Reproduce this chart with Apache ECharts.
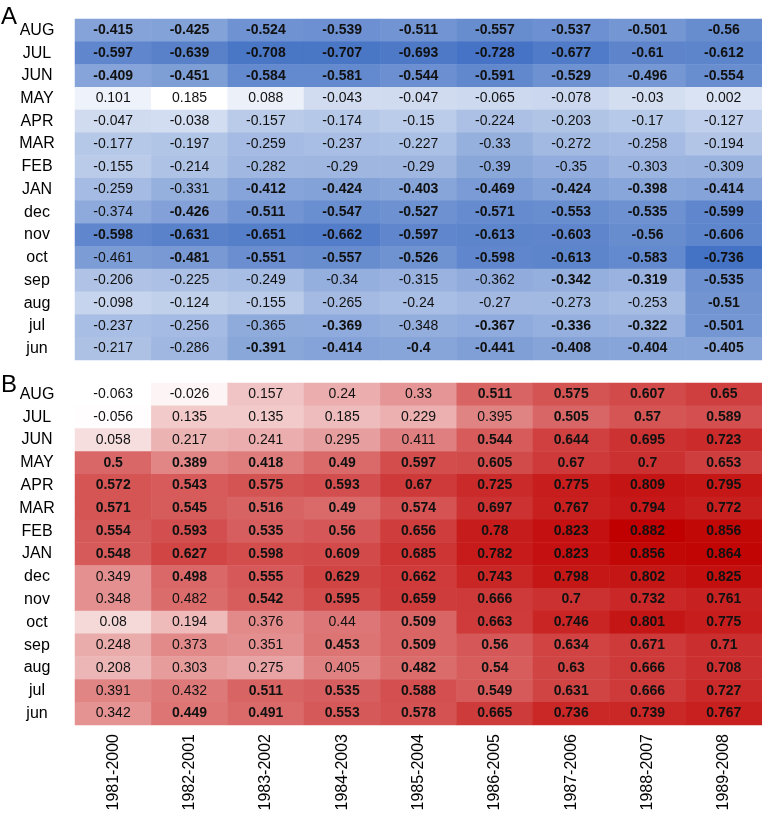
<!DOCTYPE html>
<html><head><meta charset="utf-8">
<script src="https://cdn.jsdelivr.net/npm/echarts@6/dist/echarts.min.js"></script>
<style>html,body{margin:0;padding:0;background:#fff}#c{width:762px;height:822px}</style>
</head><body><div id="c"></div>
<script>
const periods = ['1981-2000','1982-2001','1983-2002','1984-2003','1985-2004','1986-2005','1987-2006','1988-2007','1989-2008'];
const months = ['AUG','JUL','JUN','MAY','APR','MAR','FEB','JAN','dec','nov','oct','sep','aug','jul','jun'];

const valuesA = [
  [-0.415,-0.425,-0.524,-0.539,-0.511,-0.557,-0.537,-0.501,-0.56],
  [-0.597,-0.639,-0.708,-0.707,-0.693,-0.728,-0.677,-0.61,-0.612],
  [-0.409,-0.451,-0.584,-0.581,-0.544,-0.591,-0.529,-0.496,-0.554],
  [0.101,0.185,0.088,-0.043,-0.047,-0.065,-0.078,-0.03,0.002],
  [-0.047,-0.038,-0.157,-0.174,-0.15,-0.224,-0.203,-0.17,-0.127],
  [-0.177,-0.197,-0.259,-0.237,-0.227,-0.33,-0.272,-0.258,-0.194],
  [-0.155,-0.214,-0.282,-0.29,-0.29,-0.39,-0.35,-0.303,-0.309],
  [-0.259,-0.331,-0.412,-0.424,-0.403,-0.469,-0.424,-0.398,-0.414],
  [-0.374,-0.426,-0.511,-0.547,-0.527,-0.571,-0.553,-0.535,-0.599],
  [-0.598,-0.631,-0.651,-0.662,-0.597,-0.613,-0.603,-0.56,-0.606],
  [-0.461,-0.481,-0.551,-0.557,-0.526,-0.598,-0.613,-0.583,-0.736],
  [-0.206,-0.225,-0.249,-0.34,-0.315,-0.362,-0.342,-0.319,-0.535],
  [-0.098,-0.124,-0.155,-0.265,-0.24,-0.27,-0.273,-0.253,-0.51],
  [-0.237,-0.256,-0.365,-0.369,-0.348,-0.367,-0.336,-0.322,-0.501],
  [-0.217,-0.286,-0.391,-0.414,-0.4,-0.441,-0.408,-0.404,-0.405]
];
const boldA = [
  [1,1,1,1,1,1,1,1,1],
  [1,1,1,1,1,1,1,1,1],
  [1,1,1,1,1,1,1,1,1],
  [0,0,0,0,0,0,0,0,0],
  [0,0,0,0,0,0,0,0,0],
  [0,0,0,0,0,0,0,0,0],
  [0,0,0,0,0,0,0,0,0],
  [0,0,1,1,1,1,1,1,1],
  [0,1,1,1,1,1,1,1,1],
  [1,1,1,1,1,1,1,1,1],
  [0,1,1,1,1,1,1,1,1],
  [0,0,0,0,0,0,1,1,1],
  [0,0,0,0,0,0,0,0,1],
  [0,0,0,1,0,1,1,1,1],
  [0,0,1,1,1,1,1,1,1]
];
const valuesB = [
  [-0.063,-0.026,0.157,0.24,0.33,0.511,0.575,0.607,0.65],
  [-0.056,0.135,0.135,0.185,0.229,0.395,0.505,0.57,0.589],
  [0.058,0.217,0.241,0.295,0.411,0.544,0.644,0.695,0.723],
  [0.5,0.389,0.418,0.49,0.597,0.605,0.67,0.7,0.653],
  [0.572,0.543,0.575,0.593,0.67,0.725,0.775,0.809,0.795],
  [0.571,0.545,0.516,0.49,0.574,0.697,0.767,0.794,0.772],
  [0.554,0.593,0.535,0.56,0.656,0.78,0.823,0.882,0.856],
  [0.548,0.627,0.598,0.609,0.685,0.782,0.823,0.856,0.864],
  [0.349,0.498,0.555,0.629,0.662,0.743,0.798,0.802,0.825],
  [0.348,0.482,0.542,0.595,0.659,0.666,0.7,0.732,0.761],
  [0.08,0.194,0.376,0.44,0.509,0.663,0.746,0.801,0.775],
  [0.248,0.373,0.351,0.453,0.509,0.56,0.634,0.671,0.71],
  [0.208,0.303,0.275,0.405,0.482,0.54,0.63,0.666,0.708],
  [0.391,0.432,0.511,0.535,0.588,0.549,0.631,0.666,0.727],
  [0.342,0.449,0.491,0.553,0.578,0.665,0.736,0.739,0.767]
];
const boldB = [
  [0,0,0,0,0,1,1,1,1],
  [0,0,0,0,0,0,1,1,1],
  [0,0,0,0,0,1,1,1,1],
  [1,1,1,1,1,1,1,1,1],
  [1,1,1,1,1,1,1,1,1],
  [1,1,1,1,1,1,1,1,1],
  [1,1,1,1,1,1,1,1,1],
  [1,1,1,1,1,1,1,1,1],
  [0,1,1,1,1,1,1,1,1],
  [0,0,1,1,1,1,1,1,1],
  [0,0,0,0,1,1,1,1,1],
  [0,0,0,1,1,1,1,1,1],
  [0,0,0,0,1,1,1,1,1],
  [0,0,1,1,1,1,1,1,1],
  [0,1,1,1,1,1,1,1,1]
];

function build(vals, bold) {
  const out = [];
  vals.forEach((row, r) => row.forEach((v, c) => {
    out.push({ value: [c, r, v], label: { fontWeight: bold[r][c] ? 'bold' : 'normal' } });
  }));
  return out;
}
function range(vals) {
  const f = vals.flat();
  return [Math.min(...f), Math.max(...f)];
}
const rA = range(valuesA), rB = range(valuesB);
const FONT = 'Liberation Sans, Arial, sans-serif';

const chart = echarts.init(document.getElementById('c'), null, { renderer: 'canvas' });
const yAx = (gi) => ({
  type: 'category', data: months, gridIndex: gi, inverse: true,
  axisLine: { show: false }, axisTick: { show: false }, splitLine: { show: false },
  axisLabel: { color: '#000', fontSize: 16, fontFamily: FONT, align: 'center', margin: 38 }
});
const labelCfg = {
  show: true, color: '#111', fontSize: 14, fontFamily: FONT,
  formatter: p => String(p.value[2])
};
chart.setOption({
  animation: false,
  backgroundColor: '#fff',
  grid: [
    { left: 75, right: 0, top: 19, height: 341 },
    { left: 75, right: 0, top: 383, height: 342 }
  ],
  xAxis: [
    { type: 'category', data: periods, gridIndex: 0, show: false },
    { type: 'category', data: periods, gridIndex: 1,
      axisLine: { show: false }, axisTick: { show: false }, splitLine: { show: false },
      axisLabel: { color: '#000', fontSize: 16, fontFamily: FONT, rotate: 90, margin: 9 } }
  ],
  yAxis: [yAx(0), yAx(1)],
  visualMap: [
    { show: false, seriesIndex: 0, min: rA[0], max: rA[1], dimension: 2, inRange: { color: ['#4472c4', '#ffffff'] } },
    { show: false, seriesIndex: 1, min: rB[0], max: rB[1], dimension: 2, inRange: { color: ['#ffffff', '#c00000'] } }
  ],
  series: [
    { type: 'heatmap', xAxisIndex: 0, yAxisIndex: 0, data: build(valuesA, boldA), label: labelCfg,
      itemStyle: { borderWidth: 0 }, emphasis: { disabled: true } },
    { type: 'heatmap', xAxisIndex: 1, yAxisIndex: 1, data: build(valuesB, boldB), label: labelCfg,
      itemStyle: { borderWidth: 0 }, emphasis: { disabled: true } }
  ],
  graphic: [
    { type: 'text', left: 1, top: 5, style: { text: 'A', fontSize: 24, fontFamily: FONT, fill: '#000' } },
    { type: 'text', left: 1, top: 373, style: { text: 'B', fontSize: 24, fontFamily: FONT, fill: '#000' } }
  ]
});
</script></body></html>
